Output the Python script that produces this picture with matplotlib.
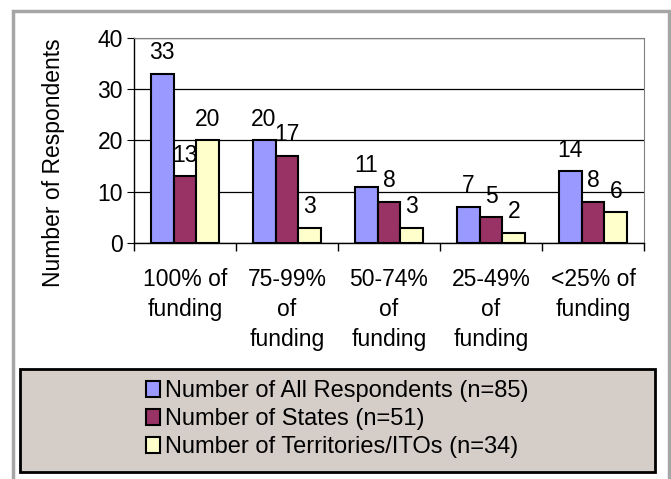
import matplotlib.pyplot as plt
from matplotlib.patches import Rectangle, Patch
import numpy as np

categories = ['100% of\nfunding', '75-99%\nof\nfunding', '50-74%\nof\nfunding',
              '25-49%\nof\nfunding', '<25% of\nfunding']
allResp = [33, 20, 11, 7, 14]
states = [13, 17, 8, 5, 8]
territories = [20, 3, 3, 2, 6]
seriesNames = ['Number of All Respondents (n=85)', 'Number of States (n=51)',
               'Number of Territories/ITOs (n=34)']
colors = ['#9999FF', '#993366', '#FFFFCC']

plt.rcParams['font.family'] = ['Liberation Sans', 'DejaVu Sans']
fs = 16.5

fig = plt.figure(figsize=(6.71, 4.79), dpi=100)
ax = fig.add_axes([0.1997, 0.4927, 0.7601, 0.428])

x = np.arange(len(categories))
w = 0.225
for i, vals in enumerate([allResp, states, territories]):
    bars = ax.bar(x + (i - 1) * w, vals, w, color=colors[i], edgecolor='black',
                  linewidth=1.5, zorder=3, label=seriesNames[i])
    for b, v in zip(bars, vals):
        ax.annotate(str(v), (b.get_x() + b.get_width() / 2, v), xytext=(0, 7),
                    textcoords='offset points', ha='center', va='bottom', fontsize=fs)

ax.set_xlim(-0.5, len(categories) - 0.5)
ax.set_ylim(0, 40)
ax.set_yticks([0, 10, 20, 30, 40])
ax.yaxis.grid(True, color='black', linewidth=0.9, zorder=0)
ax.set_xticks(np.arange(len(categories) + 1) - 0.5)
ax.set_xticklabels([])
ax.set_xticks(x, minor=True)
ax.set_xticklabels(categories, minor=True, fontsize=fs, linespacing=1.4, va='top')
ax.tick_params(axis='x', which='minor', length=0, pad=18)
ax.tick_params(axis='x', which='major', length=6, width=1, color='black')
ax.tick_params(axis='y', length=5, labelsize=fs, pad=3)
for s in ['top', 'right']:
    ax.spines[s].set_color('#808080')
ax.spines['left'].set_linewidth(1)
ax.spines['bottom'].set_linewidth(1)
ax.set_ylabel('Number of Respondents', fontsize=fs)
ax.yaxis.set_label_coords(-0.135, 0.39)

# outer chart border
fig.patches.append(Rectangle((0.019, -0.05), 0.978, 1.027, transform=fig.transFigure,
                             fill=False, edgecolor='#A6A6A6', linewidth=2.5))
# legend box
fig.patches.append(Rectangle((0.03, 0.0146), 0.946, 0.215, transform=fig.transFigure,
                             facecolor='#D5CDC8', edgecolor='black', linewidth=2))
handles = [Patch(facecolor=c, edgecolor='black', linewidth=1.5) for c in colors]
fig.legend(handles, seriesNames, loc='center', bbox_to_anchor=(0.503, 0.125),
           frameon=False, fontsize=17, handlelength=0.6, handleheight=0.7,
           handletextpad=0.2, labelspacing=0.25, borderpad=0)

plt.savefig('out.png', dpi=100)
